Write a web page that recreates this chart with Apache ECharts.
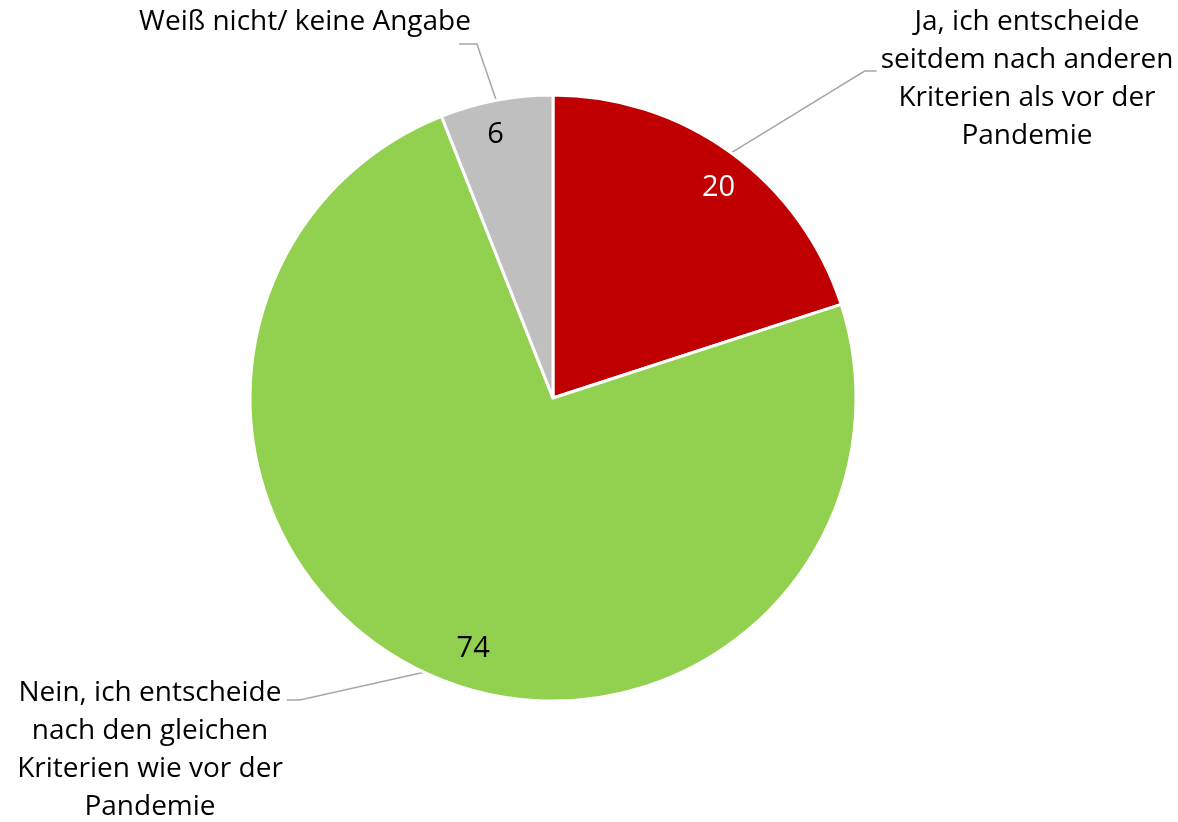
<!DOCTYPE html>
<html>
<head>
<meta charset="utf-8">
<script src="https://cdn.jsdelivr.net/npm/echarts@6/dist/echarts.min.js"></script>
<style>
  html, body { margin: 0; padding: 0; background: #fff; }
  #chart { width: 1178px; height: 822px; }
</style>
</head>
<body>
<div id="chart"></div>
<script>
// chart data
const names = [
  'Ja, ich entscheide\nseitdem nach anderen\nKriterien als vor der\nPandemie',
  'Nein, ich entscheide\nnach den gleichen\nKriterien wie vor der\nPandemie',
  'Weiß nicht/ keine Angabe',
]
const values = [20, 74, 6]
const colors = ['#C00000', '#92D050', '#BFBFBF']
const valueColors = ['#ffffff', '#000000', '#000000']

// outer name labels: top-centre of the text block, and where the leader line meets it
// edge: which side of the text the line ends on, endDx/elbowDx are offsets from that side
const labelSpots = [
  { x: 1027, y: 3, lineY: 71, edge: 'left', endDx: -4, elbowDx: -16 },
  { x: 150, y: 674, lineY: 700, edge: 'right', endDx: 4, elbowDx: 17 },
  { x: 305, y: 3, lineY: 44, edge: 'right', endDx: -12, elbowDx: 6 },
]
// small shifts of the value labels, like the original's placement
const valueNudge = [[7, 8], [35, 7], [-7, 2]]

const fontFamily = '"Open Sans", "Noto Sans", sans-serif'
const center = [553, 398]
const radius = 303

const chart = echarts.init(document.getElementById('chart'))

const option = {
  animation: false,
  series: [
    {
      // slices with outer name labels
      type: 'pie',
      center,
      radius: [0, radius],
      startAngle: 90,
      clockwise: true,
      data: names.map((name, i) => ({
        name,
        value: values[i],
        itemStyle: { color: colors[i] },
      })),
      itemStyle: { borderColor: '#fff', borderWidth: 3 },
      label: {
        show: true,
        position: 'outside',
        formatter: '{b}',
        color: '#000',
        fontFamily,
        fontSize: 28,
        lineHeight: 38,
        align: 'center',
      },
      labelLine: {
        show: true,
        length: 20,
        length2: 12,
        lineStyle: { color: '#A6A6A6', width: 1.5 },
      },
      labelLayout: (params) => {
        const spot = labelSpots[params.dataIndex]
        const w = params.labelRect.width
        const side = spot.edge === 'left' ? spot.x - w / 2 : spot.x + w / 2
        const start = params.labelLinePoints ? params.labelLinePoints[0] : null
        const out = {
          x: spot.x,
          y: spot.y,
          align: 'center',
          verticalAlign: 'top',
        }
        if (start) {
          out.labelLinePoints = [
            start,
            [side + spot.elbowDx, spot.lineY],
            [side + spot.endDx, spot.lineY],
          ]
        }
        return out
      },
      emphasis: { disabled: true },
    },
    {
      // transparent ring only for the value labels
      type: 'pie',
      center,
      radius: [radius * 0.76, radius],
      startAngle: 90,
      clockwise: true,
      silent: true,
      data: values.map((v, i) => ({
        name: names[i],
        value: v,
        itemStyle: { color: 'transparent' },
        label: { color: valueColors[i] },
      })),
      label: {
        show: true,
        position: 'inside',
        formatter: '{c}',
        fontFamily,
        fontSize: 29,
      },
      labelLine: { show: false },
      labelLayout: (params) => ({
        dx: valueNudge[params.dataIndex][0],
        dy: valueNudge[params.dataIndex][1],
      }),
      emphasis: { disabled: true },
    },
  ],
}

chart.setOption(option)
</script>
</body>
</html>
